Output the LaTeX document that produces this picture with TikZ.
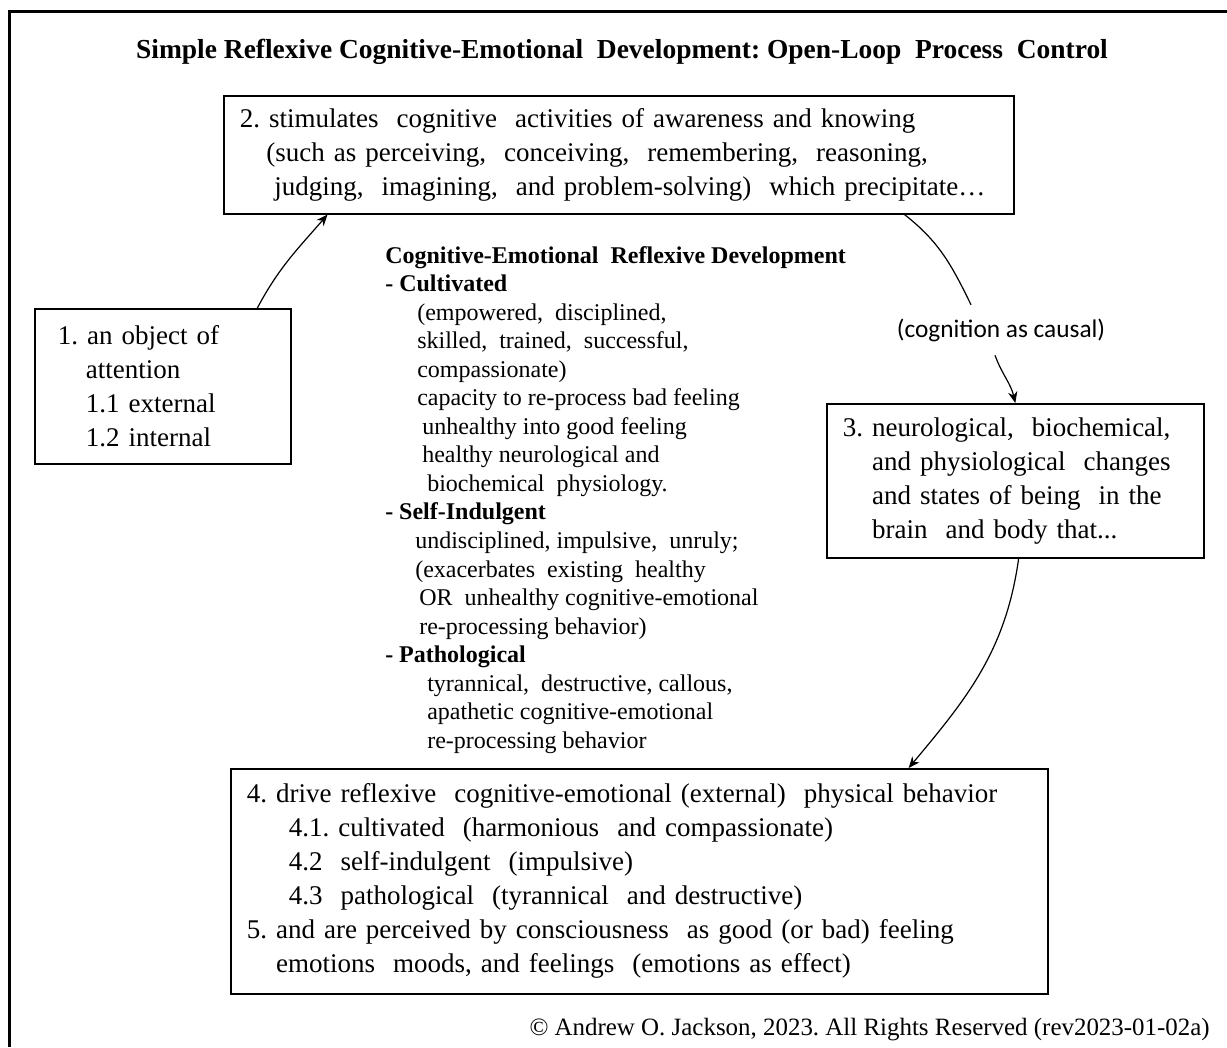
\documentclass[tikz,border=0pt]{standalone}
\usepackage{fontspec}
\setmainfont{Liberation Serif}
\newfontfamily\calibfont{Carlito}
\usetikzlibrary{arrows.meta,calc}
\frenchspacing

\tikzset{
  box/.style={draw, line width=1.2pt, anchor=north west, align=left, inner xsep=12pt, inner ysep=0pt},
  boxtext/.style={font=\fontsize{20.25}{25.5}\selectfont},
  arr/.style={line width=0.9pt, -{Stealth[length=8.5pt,width=7pt]}},
}

\begin{document}
\begin{tikzpicture}[x=0.75pt,y=0.75pt,yscale=-1,xscale=1]
		\useasboundingbox (0,0) rectangle (1227,1047);
		\draw [line width=2.25pt] (9.5,1047) -- (9.5,11) -- (1227,11) ;
		% title
		\node [font=\fontsize{20.6}{24}\selectfont\bfseries] (title) at (622,52) {Simple Reflexive Cognitive-Emotional~ Development: Open-Loop~ Process~ Control};
		% boxes
		\node [box, boxtext, minimum width=592.5pt, minimum height=88.5pt, text width=568.5pt] (n2) at (223,95) {2. stimulates~ cognitive~ activities of awareness and knowing\\ \hspace*{20pt}(such as perceiving,~ conceiving,~ remembering,~ reasoning,\\ \hspace*{26pt}judging,~ imagining,~ and problem-solving)~ which precipitate\ldots};
		\node [box, boxtext, minimum width=192pt, minimum height=116.25pt, inner xsep=17.25pt, text width=157.5pt] (n1) at (34,308) {1. an object of\\ \hspace*{21pt}attention\\ \hspace*{21pt}1.1 external\\ \hspace*{21pt}1.2 internal};
		\node [box, boxtext, minimum width=282.75pt, minimum height=115.5pt, text width=258.75pt] (n3) at (826,403) {3. neurological,~ biochemical,\\ \hspace*{22pt}and physiological~ changes\\ \hspace*{22pt}and states of being~ in the\\ \hspace*{22pt}brain~ and body that...};
		\node [box, boxtext, minimum width=612.75pt, minimum height=168.75pt, text width=588.75pt] (n4) at (230,768) {4. drive reflexive~ cognitive-emotional (external)~ physical behavior\\ \hspace*{31.5pt}4.1. cultivated~ (harmonious~ and compassionate)\\ \hspace*{31.5pt}4.2~ self-indulgent~ (impulsive)\\ \hspace*{31.5pt}4.3~ pathological~ (tyrannical~ and destructive)\\ 5. and are perceived by consciousness~ as good (or bad) feeling\\ \hspace*{22pt}emotions~ moods, and feelings~ (emotions as effect)};
		% middle list
		\node [anchor=north west, align=left, inner sep=0pt, font=\fontsize{18}{21.4}\selectfont] (devlist) at (385,246) {\textbf{Cognitive-Emotional~ Reflexive Development}\\ \textbf{- Cultivated}\\ \hspace*{24pt}(empowered,~ disciplined,\\ \hspace*{24pt}skilled,~ trained,~ successful,\\ \hspace*{24pt}compassionate)\\ \hspace*{24pt}capacity to re-process bad feeling\\ \hspace*{27.75pt}unhealthy into good feeling\\ \hspace*{27.75pt}healthy neurological and\\ \hspace*{31.5pt}biochemical~ physiology.\\ \textbf{- Self-Indulgent}\\ \hspace*{22.5pt}undisciplined, impulsive,~ unruly;\\ \hspace*{22.5pt}(exacerbates~ existing~ healthy\\ \hspace*{25.5pt}OR~ unhealthy cognitive-emotional\\ \hspace*{25.5pt}re-processing behavior)\\ \textbf{- Pathological}\\ \hspace*{31.5pt}tyrannical,~ destructive, callous,\\ \hspace*{31.5pt}apathetic cognitive-emotional\\ \hspace*{31.5pt}re-processing behavior};
		\node [font=\calibfont\fontsize{19}{22}\selectfont, minimum height=37.5pt, inner sep=0pt] (causal) at (1001,330) {(cognition as causal)};
		\node [anchor=east, font=\fontsize{18.7}{22}\selectfont, inner sep=0pt] (copy) at (1210,1030) {\textcopyright~Andrew O. Jackson, 2023. All Rights Reserved (rev2023-01-02a)};
		% arrows
		\draw [arr] ($(n1.north west)!0.867!(n1.north east)$) to [out=-62, in=131] ($(n2.south west)!0.132!(n2.south east)$) ;
		\draw [line width=0.9pt] ($(n2.south west)!0.861!(n2.south east)$) to [out=38, in=-116] ([xshift=-22.5pt]causal.north) ;
		\draw [arr] ([xshift=-4.5pt]causal.south) to [out=70, in=-103] (n3.north) ;
		\draw [arr] ([xshift=2.5pt]n3.south) to [out=98, in=-50] ($(n4.north west)!0.829!(n4.north east)$) ;
\end{tikzpicture}
\end{document}
